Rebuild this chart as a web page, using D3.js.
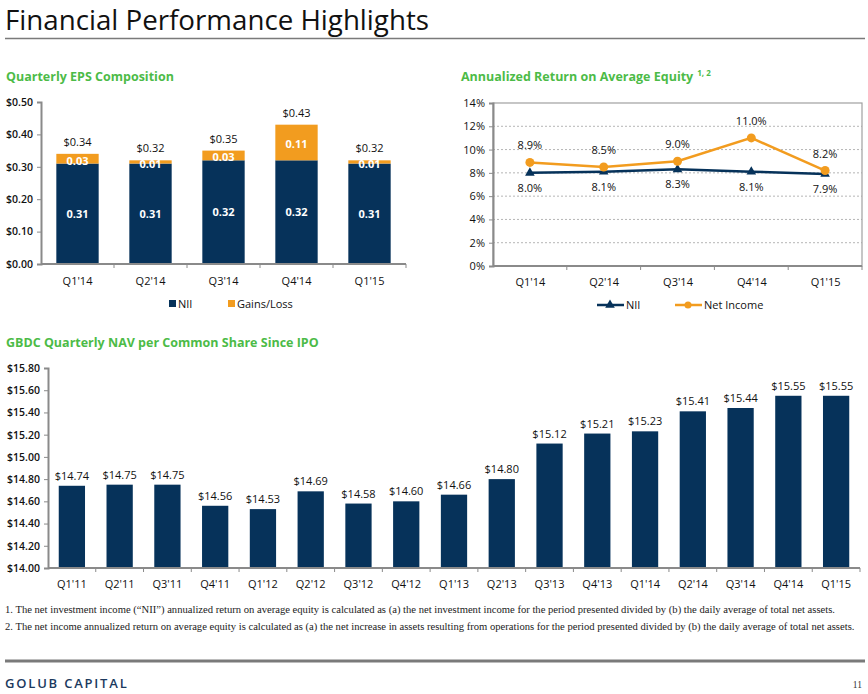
<!DOCTYPE html>
<html>
<head>
<meta charset="utf-8">
<script src="https://cdn.jsdelivr.net/npm/d3@7"></script>
<style>
  body { margin: 0; background: #fff; }
  svg { display: block; font-family: "Open Sans", sans-serif; }
  .domain { stroke: #8a8a8a; }
</style>
</head>
<body>
<div id="chart"></div>
<script>
// quarterly EPS composition
var epsQuarters = ["Q1'14", "Q2'14", "Q3'14", "Q4'14", "Q1'15"];
var epsNII = [0.31, 0.31, 0.32, 0.32, 0.31];
var epsGains = [0.03, 0.01, 0.03, 0.11, 0.01];
var epsTotals = [0.34, 0.32, 0.35, 0.43, 0.32];
var epsTicks = [0, 0.1, 0.2, 0.3, 0.4, 0.5];

// annualized return on average equity (%)
var roeQuarters = ["Q1'14", "Q2'14", "Q3'14", "Q4'14", "Q1'15"];
var roeNII = [8.0, 8.1, 8.3, 8.1, 7.9];
var roeNet = [8.9, 8.5, 9.0, 11.0, 8.2];
var roeTicks = [0, 2, 4, 6, 8, 10, 12, 14];

// NAV per share since IPO
var navQuarters = ["Q1'11", "Q2'11", "Q3'11", "Q4'11", "Q1'12", "Q2'12", "Q3'12", "Q4'12",
  "Q1'13", "Q2'13", "Q3'13", "Q4'13", "Q1'14", "Q2'14", "Q3'14", "Q4'14", "Q1'15"];
var navValues = [14.74, 14.75, 14.75, 14.56, 14.53, 14.69, 14.58, 14.60,
  14.66, 14.80, 15.12, 15.21, 15.23, 15.41, 15.44, 15.55, 15.55];
var navTicks = [14.0, 14.2, 14.4, 14.6, 14.8, 15.0, 15.2, 15.4, 15.6, 15.8];

var navy = "#06325a";
var orange = "#f29c1f";
var green = "#4cbb47";
var axisGrey = "#8a8a8a";

var svg = d3.select("#chart").append("svg")
  .attr("width", 868)
  .attr("height", 694);

// shrink/grow font size so a text spans about the given width
function fitWidth(sel, target) {
  var w = sel.node().getComputedTextLength();
  var fs = +sel.attr("font-size");
  if (w > 0) sel.attr("font-size", (fs * target / w).toFixed(2));
}

// page header
var title = svg.append("text")
  .attr("x", 5).attr("y", 29.5)
  .attr("font-size", 26)
  .attr("fill", "#111")
  .text("Financial Performance Highlights");
fitWidth(title, 424);
svg.append("line")
  .attr("x1", 5).attr("x2", 865).attr("y1", 38.5).attr("y2", 38.5)
  .attr("stroke", "#7a7a7a").attr("stroke-width", 1.5);

function sectionTitle(x, y, txt, sup) {
  var t = svg.append("text")
    .attr("x", x).attr("y", y)
    .attr("font-size", 12.5)
    .attr("font-weight", 700)
    .attr("fill", green)
    .text(txt);
  if (sup) {
    t.append("tspan").attr("dx", 4).attr("dy", -5).attr("font-size", 8).text(sup);
  }
}

// small tick marks between bands on a category axis
function bandTicks(g, scale, y) {
  var step = scale.step();
  var n = scale.domain().length;
  var start = scale.range()[0];
  for (var i = 1; i <= n; i++) {
    g.append("line")
      .attr("x1", start + i * step).attr("x2", start + i * step)
      .attr("y1", y).attr("y2", y + 4)
      .attr("stroke", axisGrey);
  }
}

function styleAxis(g, bold) {
  g.select(".domain").attr("stroke", axisGrey).attr("stroke-width", 2);
  g.selectAll(".tick line").attr("stroke", axisGrey);
  g.selectAll(".tick text")
    .attr("fill", "#111")
    .attr("font-size", bold ? 10.5 : 11)
    .attr("font-weight", bold ? 600 : 400)
    .attr("font-family", "'Open Sans', sans-serif");
}

// ---------- chart 1: Quarterly EPS Composition ----------
sectionTitle(6, 81, "Quarterly EPS Composition");

var x1 = d3.scaleBand().domain(epsQuarters).range([41, 406]).paddingInner(0.42).paddingOuter(0.21);
var y1 = d3.scaleLinear().domain([0, 0.5]).range([264, 102]);

var eps = epsQuarters.map(function (q, i) {
  return { q: q, nii: epsNII[i], gains: epsGains[i], total: epsTotals[i] };
});

var g1 = svg.append("g");
g1.selectAll(".nii").data(eps).enter().append("rect")
  .attr("x", d => x1(d.q))
  .attr("width", x1.bandwidth())
  .attr("y", d => y1(d.nii))
  .attr("height", d => y1(0) - y1(d.nii))
  .attr("fill", navy);
g1.selectAll(".gain").data(eps).enter().append("rect")
  .attr("x", d => x1(d.q))
  .attr("width", x1.bandwidth())
  .attr("y", d => y1(d.nii + d.gains))
  .attr("height", d => y1(d.nii) - y1(d.nii + d.gains))
  .attr("fill", orange);

var ax1 = g1.append("g").attr("transform", "translate(41,0)")
  .call(d3.axisLeft(y1).tickValues(epsTicks).tickFormat(d3.format("$.2f")).tickSize(4).tickPadding(4));
styleAxis(ax1, true);

var bx1 = g1.append("g").attr("transform", "translate(0,264)")
  .call(d3.axisBottom(x1).tickSize(0).tickPadding(13));
bx1.select(".domain").attr("d", "M41,0H406");
styleAxis(bx1, false);
bandTicks(g1, x1, 264);

g1.selectAll(".niiLbl").data(eps).enter().append("text")
  .attr("x", d => x1(d.q) + x1.bandwidth() / 2)
  .attr("y", d => y1(d.nii / 2))
  .attr("dy", "0.35em")
  .attr("text-anchor", "middle")
  .attr("font-size", 11).attr("font-weight", 700).attr("fill", "#fff")
  .text(d => d.nii.toFixed(2));
g1.selectAll(".gainLbl").data(eps).enter().append("text")
  .attr("x", d => x1(d.q) + x1.bandwidth() / 2)
  .attr("y", d => y1(d.nii + d.gains / 2) + 2)
  .attr("dy", "0.35em")
  .attr("text-anchor", "middle")
  .attr("font-size", 11).attr("font-weight", 700).attr("fill", "#fff")
  .text(d => d.gains.toFixed(2));
g1.selectAll(".totLbl").data(eps).enter().append("text")
  .attr("x", d => x1(d.q) + x1.bandwidth() / 2)
  .attr("y", d => y1(d.nii + d.gains) - 8)
  .attr("text-anchor", "middle")
  .attr("font-size", 11).attr("fill", "#111")
  .text(d => "$" + d.total.toFixed(2));

// legend
var leg1 = [{ name: "NII", c: navy, x: 169 }, { name: "Gains/Loss", c: orange, x: 228 }];
leg1.forEach(function (l) {
  svg.append("rect").attr("x", l.x).attr("y", 300).attr("width", 7).attr("height", 7).attr("fill", l.c);
  svg.append("text").attr("x", l.x + 9).attr("y", 308).attr("font-size", 11).attr("fill", "#111").text(l.name);
});

// ---------- chart 2: Annualized Return on Average Equity ----------
sectionTitle(461, 81, "Annualized Return on Average Equity", "1, 2");

var x2 = d3.scalePoint().domain(roeQuarters).range([493, 862]).padding(0.5);
var y2 = d3.scaleLinear().domain([0, 14]).range([266, 103]);

var g2 = svg.append("g");
g2.selectAll(".grid").data(roeTicks.slice(1, -1)).enter().append("line")
  .attr("x1", 493).attr("x2", 862)
  .attr("y1", d => y2(d)).attr("y2", d => y2(d))
  .attr("stroke", "#b5b5b5").attr("stroke-dasharray", "2,2");
g2.append("rect")
  .attr("x", 493).attr("y", y2(14)).attr("width", 862 - 493).attr("height", y2(0) - y2(14))
  .attr("fill", "none").attr("stroke", "#a0a0a0").attr("stroke-width", 1.2);

var ax2 = g2.append("g").attr("transform", "translate(493,0)")
  .call(d3.axisLeft(y2).tickValues(roeTicks).tickFormat(d => d + "%").tickSize(4).tickPadding(4));
styleAxis(ax2, false);

var bx2 = g2.append("g").attr("transform", "translate(0,266)")
  .call(d3.axisBottom(x2).tickSize(0).tickPadding(12));
bx2.select(".domain").attr("d", "M493,0H862");
styleAxis(bx2, false);
var step2 = x2.step();
roeQuarters.forEach(function (q) {
  g2.append("line")
    .attr("x1", x2(q) + step2 / 2).attr("x2", x2(q) + step2 / 2)
    .attr("y1", 266).attr("y2", 270).attr("stroke", axisGrey);
});

var lineNet = d3.line().x((d, i) => x2(roeQuarters[i])).y(d => y2(d));
g2.append("path").datum(roeNII)
  .attr("d", lineNet).attr("fill", "none").attr("stroke", navy).attr("stroke-width", 2.5);
g2.append("path").datum(roeNet)
  .attr("d", lineNet).attr("fill", "none").attr("stroke", orange).attr("stroke-width", 2.5);

var tri = d3.symbol().type(d3.symbolTriangle).size(40);
g2.selectAll(".triNII").data(roeNII).enter().append("path")
  .attr("d", tri)
  .attr("transform", (d, i) => "translate(" + x2(roeQuarters[i]) + "," + y2(d) + ")")
  .attr("fill", navy);
g2.selectAll(".dotNet").data(roeNet).enter().append("circle")
  .attr("cx", (d, i) => x2(roeQuarters[i]))
  .attr("cy", d => y2(d))
  .attr("r", 4.5)
  .attr("fill", orange);

g2.selectAll(".lblNet").data(roeNet).enter().append("text")
  .attr("x", (d, i) => x2(roeQuarters[i]))
  .attr("y", d => y2(d) - 13)
  .attr("text-anchor", "middle")
  .attr("font-size", 11).attr("fill", "#111")
  .text(d => d.toFixed(1) + "%");
g2.selectAll(".lblNII").data(roeNII).enter().append("text")
  .attr("x", (d, i) => x2(roeQuarters[i]))
  .attr("y", d => y2(d) + 19)
  .attr("text-anchor", "middle")
  .attr("font-size", 11).attr("fill", "#111")
  .text(d => d.toFixed(1) + "%");

// legend
svg.append("line").attr("x1", 597).attr("x2", 624).attr("y1", 305).attr("y2", 305)
  .attr("stroke", navy).attr("stroke-width", 2.5);
svg.append("path").attr("d", tri).attr("transform", "translate(610,305)").attr("fill", navy);
svg.append("text").attr("x", 626).attr("y", 309).attr("font-size", 11).attr("fill", "#111").text("NII");
svg.append("line").attr("x1", 675).attr("x2", 702).attr("y1", 305).attr("y2", 305)
  .attr("stroke", orange).attr("stroke-width", 2.5);
svg.append("circle").attr("cx", 688).attr("cy", 305).attr("r", 3.5).attr("fill", orange);
svg.append("text").attr("x", 704).attr("y", 309).attr("font-size", 11).attr("fill", "#111").text("Net Income");

// ---------- chart 3: GBDC Quarterly NAV ----------
sectionTitle(6, 347, "GBDC Quarterly NAV per Common Share Since IPO");

var x3 = d3.scaleBand().domain(navQuarters).range([48, 860]).paddingInner(0.45).paddingOuter(0.225);
var y3 = d3.scaleLinear().domain([14.0, 15.8]).range([568, 368]);

var g3 = svg.append("g");
g3.selectAll("rect").data(navValues).enter().append("rect")
  .attr("x", (d, i) => x3(navQuarters[i]))
  .attr("width", x3.bandwidth())
  .attr("y", d => y3(d))
  .attr("height", d => y3(14) - y3(d))
  .attr("fill", navy);

var ax3 = g3.append("g").attr("transform", "translate(48,0)")
  .call(d3.axisLeft(y3).tickValues(navTicks).tickFormat(d3.format("$.2f")).tickSize(4).tickPadding(4));
styleAxis(ax3, true);

var bx3 = g3.append("g").attr("transform", "translate(0,568)")
  .call(d3.axisBottom(x3).tickSize(0).tickPadding(12));
bx3.select(".domain").attr("d", "M48,0H860");
styleAxis(bx3, false);
bandTicks(g3, x3, 568);

g3.selectAll(".navLbl").data(navValues).enter().append("text")
  .attr("x", (d, i) => x3(navQuarters[i]) + x3.bandwidth() / 2)
  .attr("y", d => y3(d) - 6)
  .attr("text-anchor", "middle")
  .attr("font-size", 11).attr("fill", "#111")
  .text(d => "$" + d.toFixed(2));

// footnotes
var notes = [
  "1.  The net investment income (\u201cNII\u201d) annualized return on average equity is calculated as (a) the net investment income for the period presented divided by (b) the daily average of total net assets.",
  "2.  The net income annualized return on average equity is calculated as (a) the net increase in assets resulting from operations for the period presented divided by (b) the daily average of total net assets."
];
var notes2 = svg.selectAll(".note").data(notes).enter().append("text")
  .attr("x", 5).attr("y", (d, i) => 613 + i * 17)
  .attr("font-family", "'Liberation Serif', serif")
  .attr("font-size", 10.5)
  .attr("fill", "#222")
  .text(d => d);
// the longer second line sets the size for both
var w2 = notes2.nodes()[1].getComputedTextLength();
notes2.attr("font-size", (10.5 * 850 / w2).toFixed(2));

// footer
svg.append("line")
  .attr("x1", 5).attr("x2", 865).attr("y1", 661).attr("y2", 661)
  .attr("stroke", "#7a7a7a").attr("stroke-width", 3);
svg.append("text")
  .attr("x", 5).attr("y", 688)
  .attr("font-size", 13).attr("font-weight", 600)
  .attr("letter-spacing", 1.8)
  .attr("fill", "#1c3a5e")
  .text("GOLUB CAPITAL");
svg.append("text")
  .attr("x", 862).attr("y", 688)
  .attr("text-anchor", "end")
  .attr("font-family", "'Liberation Serif', serif")
  .attr("font-size", 9.5).attr("fill", "#333")
  .text("11");
</script>
</body>
</html>
